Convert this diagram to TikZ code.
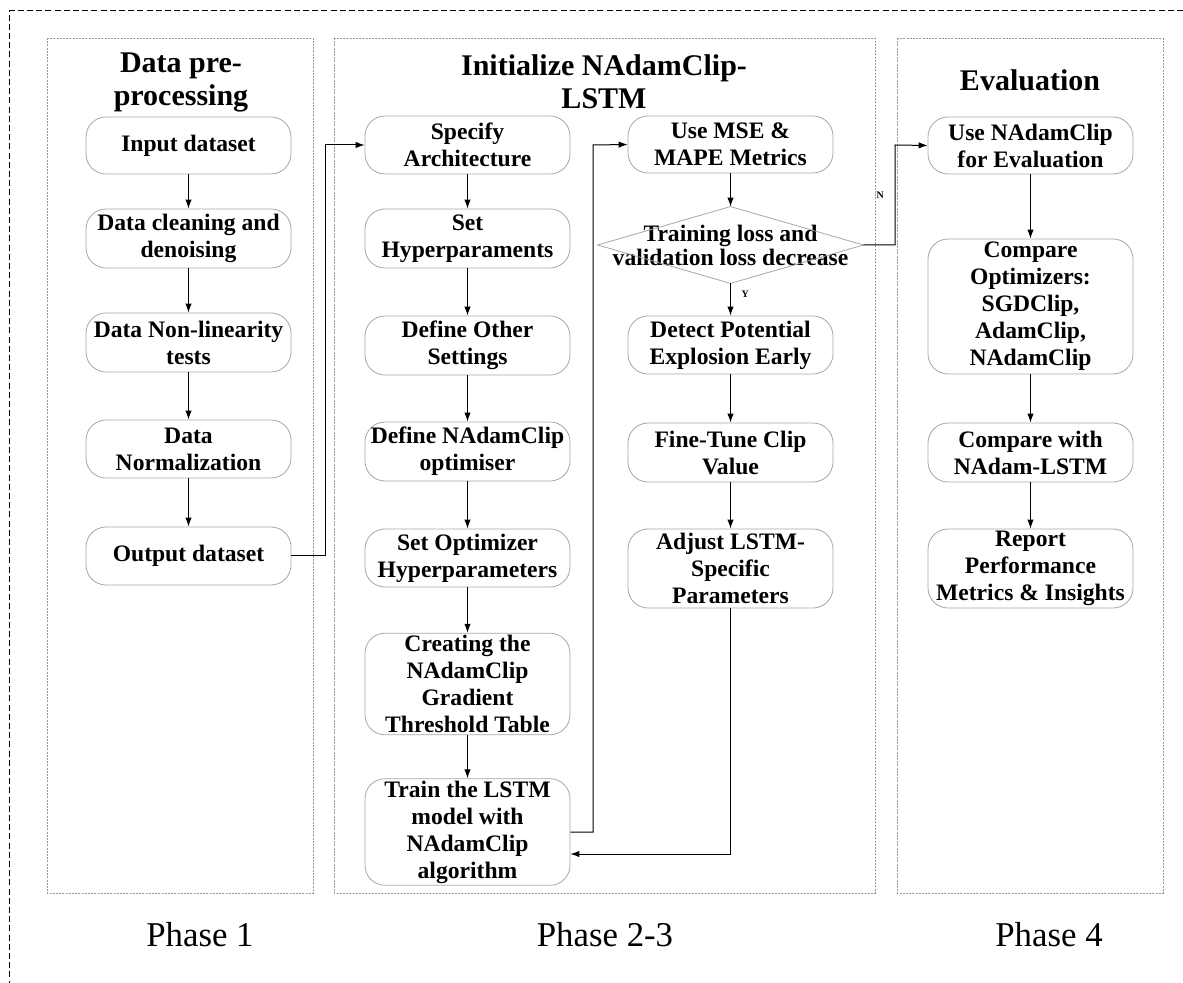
\documentclass[tikz,border=0pt]{standalone}
\usepackage{fontspec}
\setmainfont{Liberation Serif}
\usetikzlibrary{arrows.meta,calc}
\tikzset{
  box/.style={draw=black!35, line width=0.4pt, rounded corners=10pt, minimum width=102.5pt, inner sep=1pt, align=center, font=\fontsize{11.8}{13.5}\selectfont\bfseries},
  panel/.style={draw=black!40, line width=0.4pt, dash pattern=on 1pt off 0.6pt},
  title/.style={align=center, font=\fontsize{15}{16.5}\selectfont\bfseries},
  phase/.style={font=\fontsize{17.4}{20}\selectfont},
  arr/.style={draw=black, line width=0.5pt, -{Latex[length=4.5pt,width=3.2pt]}},
  lab/.style={font=\fontsize{5}{6}\selectfont\bfseries},
}
\begin{document}
\begin{tikzpicture}[x=0.5pt,y=-0.5pt]
\path[use as bounding box] (0,0) rectangle (1183,983);
% outer dashed frame
\draw[line width=0.5pt, dash pattern=on 3pt off 1.6pt] (1183,11) -- (9,11) -- (9,983);
% panels
\draw[panel] (47,38) rectangle (313,893);
\draw[panel] (334,38) rectangle (875,893);
\draw[panel] (897,38) rectangle (1163,893);
% titles
\node[title] (t1) at (181,82) {Data pre-\\processing};
\node[title] (t2) at (604,82) {Initialize NAdamClip-\\LSTM};
\node[title] (t3) at (1030,80) {Evaluation};
% phase labels
\node[phase] (p1) at (200,935) {Phase 1};
\node[phase] (p2) at (605,935) {Phase 2-3};
\node[phase] (p3) at (1049,935) {Phase 4};
% panel 1
\node[box, minimum height=28.5pt] (in) at (188.5,145.5) {Input dataset};
\node[box, minimum height=29.5pt] (clean) at (188.5,238.5) {Data cleaning and\\denoising};
\node[box, minimum height=29.5pt] (nonlin) at (188.5,342.5) {Data Non-linearity\\tests};
\node[box, minimum height=29pt] (norm) at (188.5,449) {Data\\Normalization};
\node[box, minimum height=29pt] (out) at (188.5,556) {Output dataset};
% panel 2 column A
\node[box, minimum height=29pt] (spec) at (467.5,145) {Specify\\Architecture};
\node[box, minimum height=29.5pt] (hyper) at (467.5,238.5) {Set\\Hyperparaments};
\node[box, minimum height=29.5pt] (other) at (467.5,345.5) {Define Other\\Settings};
\node[box, minimum height=29.5pt] (defn) at (467.5,451.5) {Define NAdamClip\\optimiser};
\node[box, minimum height=29pt] (opt) at (467.5,558) {Set Optimizer\\Hyperparameters};
\node[box, minimum height=48pt] (table) at (467.5,684) {Creating the\\NAdamClip\\Gradient\\Threshold Table};
\node[box, minimum height=52pt] (train) at (467.5,832) {Train the LSTM\\model with\\NAdamClip\\algorithm};
% panel 2 column B
\node[box, minimum height=28.5pt] (mse) at (730.5,144.5) {Use MSE \&\\MAPE Metrics};
\node[align=center, inner sep=0pt, minimum width=132.5pt, minimum height=38pt, font=\fontsize{11.8}{12}\selectfont\bfseries] (dia) at (730.5,245) {Training loss and\\validation loss decrease};
\draw[draw=black!35, line width=0.4pt] (dia.north) -- (dia.east) -- (dia.south) -- (dia.west) -- cycle;
\node[box, minimum height=29pt] (detect) at (730.5,345) {Detect Potential\\Explosion Early};
\node[box, minimum height=29.5pt] (fine) at (730.5,452.5) {Fine-Tune Clip\\Value};
\node[box, minimum height=39.5pt] (adjust) at (730.5,568.5) {Adjust LSTM-\\Specific\\Parameters};
% panel 3
\node[box, minimum height=28.5pt] (usen) at (1030.5,145.5) {Use NAdamClip\\for Evaluation};
\node[box, minimum height=67.5pt] (cmp) at (1030.5,306.5) {Compare\\Optimizers:\\SGDClip,\\AdamClip,\\NAdamClip};
\node[box, minimum height=29.5pt] (cmpn) at (1030.5,452.5) {Compare with\\NAdam-LSTM};
\node[box, minimum height=39.5pt] (report) at (1030.5,568.5) {Report\\Performance\\Metrics \& Insights};
% connector helper coordinates
\coordinate (c1) at (325,145);
\coordinate (c2) at (593,145);
\coordinate (c3) at (730.5,854);
\coordinate (c4) at (895,145);
% connectors panel 1
\draw[arr] (in) -- (clean);
\draw[arr] (clean) -- (nonlin);
\draw[arr] (nonlin) -- (norm);
\draw[arr] (norm) -- (out);
\draw[arr] (out.east) -| (c1) -- (spec.west);
% panel 2A
\draw[arr] (spec) -- (hyper);
\draw[arr] (hyper) -- (other);
\draw[arr] (other) -- (defn);
\draw[arr] (defn) -- (opt);
\draw[arr] (opt) -- (table);
\draw[arr] (table) -- (train);
\draw[arr] (train.east) -| (c2) -- (mse.west);
% panel 2B
\draw[arr] (mse) -- (dia.north);
\draw[arr] (dia.south) -- node[lab, right=2pt, pos=0.35] (ylab) {Y} (detect);
\draw[arr] (detect) -- (fine);
\draw[arr] (fine) -- (adjust);
\draw[arr] (adjust.south) -- (c3) -- (train.east |- c3);
\draw[arr] (dia.east) -| node[lab, left=2pt, pos=0.75] (nlab) {N} (c4) -- (usen.west);
% panel 3
\draw[arr] (usen) -- (cmp);
\draw[arr] (cmp) -- (cmpn);
\draw[arr] (cmpn) -- (report);
\end{tikzpicture}
\end{document}
